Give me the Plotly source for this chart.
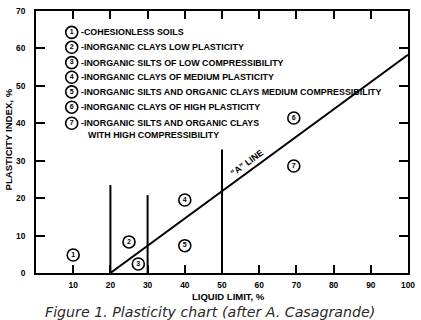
import plotly.graph_objects as go

# ---- data ----
ll_tick_vals = [10, 20, 30, 40, 50, 60, 70, 80, 90, 100]
ll_tick_labels = ["10", "20", "30", "40", "50", "60", "70", "80", "90", "100"]
pi_tick_vals = [0, 10, 20, 30, 40, 50, 60, 70]
pi_tick_labels = ["0", "10", "20", "30", "40", "50", "60", "70"]

a_line_ll = [20, 100]
a_line_pi = [0, 58.3]

bound_ll = [20, 30, 50]
bound_top = [23.5, 20.8, 33.0]

zone_ids = ["1", "2", "3", "4", "5", "6", "7"]
zone_ll = [10, 25, 27.5, 40, 40, 69.3, 69.3]
zone_pi = [4.8, 8.3, 2.4, 19.5, 7.3, 41.4, 28.6]

legend_ids = ["1", "2", "3", "4", "5", "6", "7"]
legend_ll = [9.6] * 7
legend_pi = [64.3, 60.3, 56.2, 52.3, 48.4, 44.3, 40.0]
legend_text = [
    "-COHESIONLESS SOILS",
    "-INORGANIC CLAYS LOW PLASTICITY",
    "-INORGANIC SILTS OF LOW COMPRESSIBILITY",
    "-INORGANIC CLAYS OF MEDIUM PLASTICITY",
    "-INORGANIC SILTS AND ORGANIC CLAYS MEDIUM COMPRESSIBILITY",
    "-INORGANIC CLAYS OF HIGH PLASTICITY",
    "-INORGANIC SILTS AND ORGANIC CLAYS",
]
legend_cont = "WITH HIGH COMPRESSIBILITY"
legend_cont_pi = 36.9

x_title = "LIQUID LIMIT, %"
y_title = "PLASTICITY INDEX, %"
a_label = "\u201cA\u201d LINE"
caption = "Figure 1. Plasticity chart (after A. Casagrande)"

X_MAX, Y_MAX = 100, 70

FONT = "Liberation Sans"
BOLD = dict(family=FONT, size=8.9, color="black")
TICKF = dict(family=FONT, size=8.4, color="black")


def b(s):
    return "<b>" + s + "</b>"


fig = go.Figure()

# A-line
fig.add_trace(go.Scatter(x=a_line_ll, y=a_line_pi, mode="lines",
                         line=dict(color="black", width=2), hoverinfo="skip"))
# zone boundaries
for xv, top in zip(bound_ll, bound_top):
    fig.add_trace(go.Scatter(x=[xv, xv], y=[0, top], mode="lines",
                             line=dict(color="black", width=2), hoverinfo="skip"))

# circled numbers
circ = dict(symbol="circle-open", size=12, color="black", line=dict(width=1.6, color="black"))
fig.add_trace(go.Scatter(x=zone_ll, y=zone_pi, mode="markers+text", text=[b(t) for t in zone_ids],
                         textposition="middle center", marker=circ,
                         textfont=dict(family=FONT, size=7, color="black")))
fig.add_trace(go.Scatter(x=legend_ll, y=legend_pi, mode="markers+text", text=[b(t) for t in legend_ids],
                         textposition="middle center", marker=circ,
                         textfont=dict(family=FONT, size=7, color="black")))

annotations = []
for t, yv in zip(legend_text, legend_pi):
    annotations.append(dict(x=11.5, y=yv, xref="x", yref="y", text=b(t), showarrow=False,
                            xanchor="left", yanchor="middle", font=BOLD))
annotations.append(dict(x=13.4, y=legend_cont_pi, xref="x", yref="y", text=b(legend_cont),
                        showarrow=False, xanchor="left", yanchor="middle", font=BOLD))
annotations.append(dict(x=56.6, y=29.4, xref="x", yref="y", text=b(a_label), showarrow=False,
                        textangle=-36, xanchor="center", yanchor="middle", font=BOLD))
annotations.append(dict(x=0.517, y=-0.09, xref="paper", yref="paper", text=b(x_title),
                        showarrow=False, xanchor="center", yanchor="middle",
                        font=dict(family=FONT, size=9.5, color="black")))
annotations.append(dict(x=-0.075, y=0.51, xref="paper", yref="paper", text=b(y_title),
                        showarrow=False, textangle=-90, xanchor="center", yanchor="middle",
                        font=dict(family=FONT, size=9.6, color="black")))
annotations.append(dict(x=0.467, y=-0.147, xref="paper", yref="paper", text="<i>" + caption + "</i>",
                        showarrow=False, xanchor="center", yanchor="middle",
                        font=dict(family="DejaVu Sans", size=14.2, color="#2a2a2a")))

fig.update_layout(
    width=421, height=320,
    margin=dict(l=36, r=6, t=7, b=47),
    paper_bgcolor="white", plot_bgcolor="white",
    showlegend=False,
    annotations=annotations,
    xaxis=dict(range=[0, X_MAX], tickvals=ll_tick_vals, ticktext=[b(t) for t in ll_tick_labels],
               showgrid=False, zeroline=False, showline=True, linewidth=2, linecolor="black",
               mirror="allticks", ticks="inside", ticklen=8, tickwidth=2, tickcolor="#000000",
               tickfont=TICKF, ticklabelstandoff=3, fixedrange=True, layer="above traces"),
    yaxis=dict(range=[0, Y_MAX], tickvals=pi_tick_vals, ticktext=[b(t) for t in pi_tick_labels],
               showgrid=False, zeroline=False, showline=True, linewidth=2, linecolor="black",
               mirror="allticks", ticks="inside", ticklen=9, tickwidth=2, tickcolor="#000000",
               tickfont=TICKF, ticklabelstandoff=7, fixedrange=True, layer="above traces"),
)

fig.write_html("out.html")
